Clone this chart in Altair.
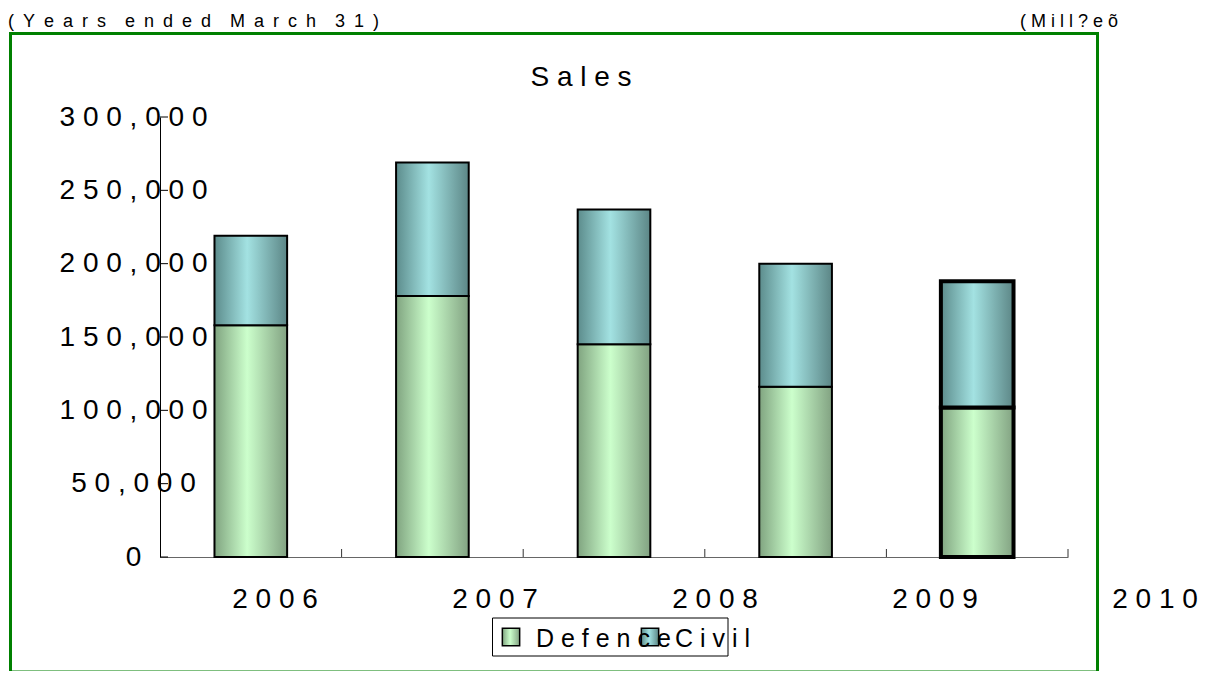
import altair as alt
import pandas as pd

# ---- data ----
years = ["2006", "2007", "2008", "2009", "2010"]
series = ["Defence", "Civil"]
defence = [158000, 178000, 145000, 116000, 102000]
civil = [61000, 91000, 92000, 84000, 86000]
y_ticks = [0, 50000, 100000, 150000, 200000, 250000, 300000]
chart_title = "Sales"
period_note = "(Years ended March 31)"
unit_note = "(Mill?eõ"

FONT = "Liberation Sans"
W, H = 908, 440
EN = "\u2002"
NBSP = "\u00a0"


def spaced(s):
    return " ".join(s)


def spaced_wide(s):
    return (EN + NBSP + NBSP).join(EN.join(w) for w in s.split(" "))


rows = []
for i, yr in enumerate(years):
    rows.append({"year": yr, "series": "Defence", "value": defence[i], "order": 0})
    rows.append({"year": yr, "series": "Civil", "value": civil[i], "order": 1})
bars_df = pd.DataFrame(rows)


def grad(edge_l, mid, edge_r):
    return {
        "gradient": "linear", "x1": 0, "y1": 0, "x2": 1, "y2": 0,
        "stops": [
            {"offset": 0, "color": edge_l},
            {"offset": 0.45, "color": mid},
            {"offset": 1, "color": edge_r},
        ],
    }


grad_def = grad("#80a480", "#ccffcc", "#82a282")
grad_civ = grad("#5c8c8c", "#a3e2e2", "#5c8686")

fill_cond = alt.condition(alt.datum.series == "Defence", alt.value(grad_def), alt.value(grad_civ))

y_scale = alt.Scale(domain=[0, 300000], nice=False)
y_axis = alt.Axis(values=y_ticks, title=None, grid=False, ticks=False,
                  labelExpr="join(split(format(datum.value, ','), ''), ' ')",
                  labelFont=FONT, labelFontSize=28, labelColor="black",
                  labelAlign="center", labelBaseline="middle", labelPadding=27,
                  labelOverlap=False, domainColor="black")

bars = alt.Chart(bars_df).mark_bar(stroke="black").encode(
    x=alt.X(
        "year:N", sort=years,
        scale=alt.Scale(paddingInner=0.6, paddingOuter=0.3),
        axis=alt.Axis(labels=False, title=None, ticks=False, domainColor="#666", grid=False),
    ),
    y=alt.Y("value:Q", stack="zero", scale=y_scale, axis=y_axis),
    order=alt.Order("order:Q", sort="ascending"),
    fill=fill_cond,
    strokeWidth=alt.condition(alt.datum.year == "2010", alt.value(4), alt.value(2)),
)

# inward ticks on the value axis
ytick_df = pd.DataFrame({"value": y_ticks})
y_tick_marks = alt.Chart(ytick_df).mark_rule(color="black", strokeWidth=1).encode(
    y=alt.Y("value:Q", scale=y_scale, axis=y_axis),
    x=alt.value(0), x2=alt.value(8),
)

# inward ticks at the category boundaries
xtick_df = pd.DataFrame({"year": years})
x_tick_marks = alt.Chart(xtick_df).mark_rule(color="#333", strokeWidth=1).encode(
    x=alt.X("year:N", sort=years, bandPosition=1,
            scale=alt.Scale(type="band", domain=years, paddingInner=0, paddingOuter=0), axis=None),
    y=alt.value(432), y2=alt.value(440),
)

year_df = pd.DataFrame({"year": years, "label": [spaced(y) for y in years]})
year_labels = alt.Chart(year_df).mark_text(
    font=FONT, fontSize=28, align="center", baseline="alphabetic", color="black"
).encode(
    x=alt.X("year:N", sort=years,
            scale=alt.Scale(type="point", domain=years, range=[115, 995], padding=0), axis=None),
    y=alt.value(491),
    text="label:N",
)

one = pd.DataFrame({"k": [0]})

frame = alt.Chart(one).mark_rect(fillOpacity=0, stroke="#008000", strokeWidth=3).encode(
    x=alt.value(-149.5), x2=alt.value(937.5), y=alt.value(-83.5), y2=alt.value(555)
)

legend_box = alt.Chart(one).mark_rect(fillOpacity=0, stroke="black", strokeWidth=1).encode(
    x=alt.value(332.5), x2=alt.value(568), y=alt.value(501), y2=alt.value(539)
)

leg_df = pd.DataFrame({"series": series, "label": [spaced(s) for s in series]})
leg_scale = alt.Scale(type="point", domain=series, range=[351, 490], padding=0)
legend_sq = alt.Chart(leg_df).mark_square(size=300, stroke="black", strokeWidth=1.5, opacity=1).encode(
    x=alt.X("series:N", sort=series, scale=leg_scale, axis=None),
    y=alt.value(520),
    fill=fill_cond,
)
legend_txt = alt.Chart(leg_df).mark_text(
    font=FONT, fontSize=25, align="left", baseline="alphabetic", dx=25, color="black"
).encode(
    x=alt.X("series:N", sort=series, scale=leg_scale, axis=None),
    y=alt.value(530),
    text="label:N",
)

title_mark = alt.Chart(pd.DataFrame({"t": [spaced(chart_title)]})).mark_text(
    font=FONT, fontSize=28, align="center", baseline="alphabetic", color="black"
).encode(x=alt.value(421), y=alt.value(-31), text="t:N")

period_mark = alt.Chart(pd.DataFrame({"t": [spaced_wide(period_note)]})).mark_text(
    font=FONT, fontSize=18, align="left", baseline="alphabetic", color="black"
).encode(x=alt.value(-152), y=alt.value(-90), text="t:N")

unit_mark = alt.Chart(pd.DataFrame({"t": [spaced(unit_note)]})).mark_text(
    font=FONT, fontSize=18, align="left", baseline="alphabetic", color="black"
).encode(x=alt.value(860), y=alt.value(-90), text="t:N")

chart = alt.layer(
    frame, bars, y_tick_marks, x_tick_marks, year_labels, legend_box, legend_sq, legend_txt,
    title_mark, period_mark, unit_mark
).resolve_scale(x="independent").properties(
    width=W, height=H,
    padding={"left": 152, "top": 109, "right": 140, "bottom": 114},
    autosize=alt.AutoSizeParams(type="none"),
).configure_view(strokeWidth=0)

chart.save("out.html", embed_options={"renderer": "svg", "actions": False})
